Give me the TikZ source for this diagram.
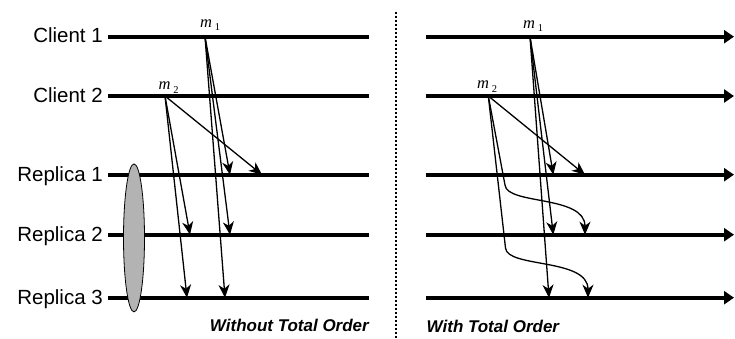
\documentclass[tikz,border=0pt]{standalone}
\usepackage{fontspec}
\setmainfont{Liberation Sans}
\newfontfamily\mserif{Liberation Serif}
\usetikzlibrary{arrows.meta,positioning,calc,shapes.geometric}
\definecolor{ink}{HTML}{000000}
\definecolor{grp}{HTML}{B3B3B3}
\newcommand{\plfont}{\fontsize{20.5}{24}\selectfont}
\newcommand{\mfont}{\fontsize{16.5}{18}\selectfont\mserif}
\newcommand{\ttfont}{\fontsize{17}{20}\selectfont\bfseries\itshape}
\newcommand{\msg}[1]{\textit{m}\,\raisebox{-3.5pt}{\fontsize{10.5}{12}\selectfont #1}}

\begin{document}
\begin{tikzpicture}[
  x=1pt, y=-1pt,
  every node/.style={inner sep=0pt},
  proc/.style={line width=4pt, draw=ink},
  aproc/.style={proc, -{Triangle[length=10pt, width=13pt]}},
  mline/.style={line width=1.3pt, draw=ink, -{Stealth[length=13pt, width=11pt, inset=4pt]}},
  plbl/.style={anchor=base east, font=\plfont},
  mlbl/.style={anchor=base west, font=\mfont},
  ttl/.style={font=\ttfont},
  sepline/.style={line width=2pt, dash pattern=on 2.7pt off 1.3pt},
  grpbox/.style={ellipse, draw=ink, line width=0.8pt, fill=grp,
                 minimum width=21pt, minimum height=148pt},
]
\useasboundingbox (0,0) rectangle (735,338);

% process lines, left half
\coordinate (lc1a) at (108,36.7);  \coordinate (lc1b) at (369,36.7);
\coordinate (lc2a) at (108,96);    \coordinate (lc2b) at (369,96);
\coordinate (lr1a) at (108,174.7); \coordinate (lr1b) at (369,174.7);
\coordinate (lr2a) at (108,234.7); \coordinate (lr2b) at (369,234.7);
\coordinate (lr3a) at (108,297.7); \coordinate (lr3b) at (369,297.7);
\foreach \p in {lc1,lc2,lr1,lr2,lr3}
  \draw[proc] (\p a) -- (\p b);

\node[plbl] (nc1) at (103,42.8)  {Client 1};
\node[plbl] (nc2) at (103,102.1) {Client 2};
\node[plbl] (nr1) at (103,181.2) {Replica 1};
\node[plbl] (nr2) at (103,241.2) {Replica 2};
\node[plbl] (nr3) at (103,304.2) {Replica 3};

% process lines, right half
\coordinate (rc1a) at (426,36.7);  \coordinate (rc1b) at (734,36.7);
\coordinate (rc2a) at (426,96);    \coordinate (rc2b) at (734,96);
\coordinate (rr1a) at (426,174.7); \coordinate (rr1b) at (734,174.7);
\coordinate (rr2a) at (426,234.7); \coordinate (rr2b) at (734,234.7);
\coordinate (rr3a) at (426,297.7); \coordinate (rr3b) at (734,297.7);
\foreach \p in {rc1,rc2,rr1,rr2,rr3}
  \draw[aproc] (\p a) -- (\p b);

% separator
\coordinate (sept) at (396,11.5);
\coordinate (sepb) at (396,338);
\draw[sepline] (sept) -- (sepb);

% messages without total order
\coordinate (lm1) at (205,36.7);
\coordinate (lm2) at (165,96);
\node[mlbl] (lm1t) at (200,27) {\msg{1}};
\node[mlbl] (lm2t) at (158.5,89.5) {\msg{2}};
\coordinate (l11) at (230,174.7);
\coordinate (l12) at (230,234.7);
\coordinate (l13) at (225,297.7);
\coordinate (l21) at (262,174.7);
\coordinate (l22) at (190,234.7);
\coordinate (l23) at (187,297.7);
\foreach \r in {1,2,3} {
  \draw[mline] (lm1) -- (l1\r);
  \draw[mline] (lm2) -- (l2\r);
}
\node[grpbox] (grp) at (134,237.9) {};
\node[ttl, anchor=base east] (wo) at (369,331.5) {Without Total Order};

% messages with total order
\coordinate (rm1) at (530,36.7);
\coordinate (rm2) at (488.3,96);
\node[mlbl] (rm1t) at (523,28) {\msg{1}};
\node[mlbl] (rm2t) at (477,88.5) {\msg{2}};
\coordinate (r11) at (553.3,174.7);
\coordinate (r12) at (553.3,234.7);
\coordinate (r13) at (549,297.7);
\coordinate (r21) at (585,174.7);
\coordinate (r22) at (585,234.7);
\coordinate (r23) at (588,297.7);
\coordinate (bend2) at (505,185);
\coordinate (bend3) at (505.5,248);
\foreach \r in {1,2,3}
  \draw[mline] (rm1) -- (r1\r);
\draw[mline] (rm2) -- (r21);
\draw[mline] (rm2) -- (bend2) .. controls (507,205) and (585,195) .. (r22);
\draw[mline] (rm2) -- (bend3) .. controls (507,268) and (588,258) .. (r23);
\node[ttl, anchor=base west] (wt) at (426.5,332) {With Total Order};
\end{tikzpicture}
\end{document}
